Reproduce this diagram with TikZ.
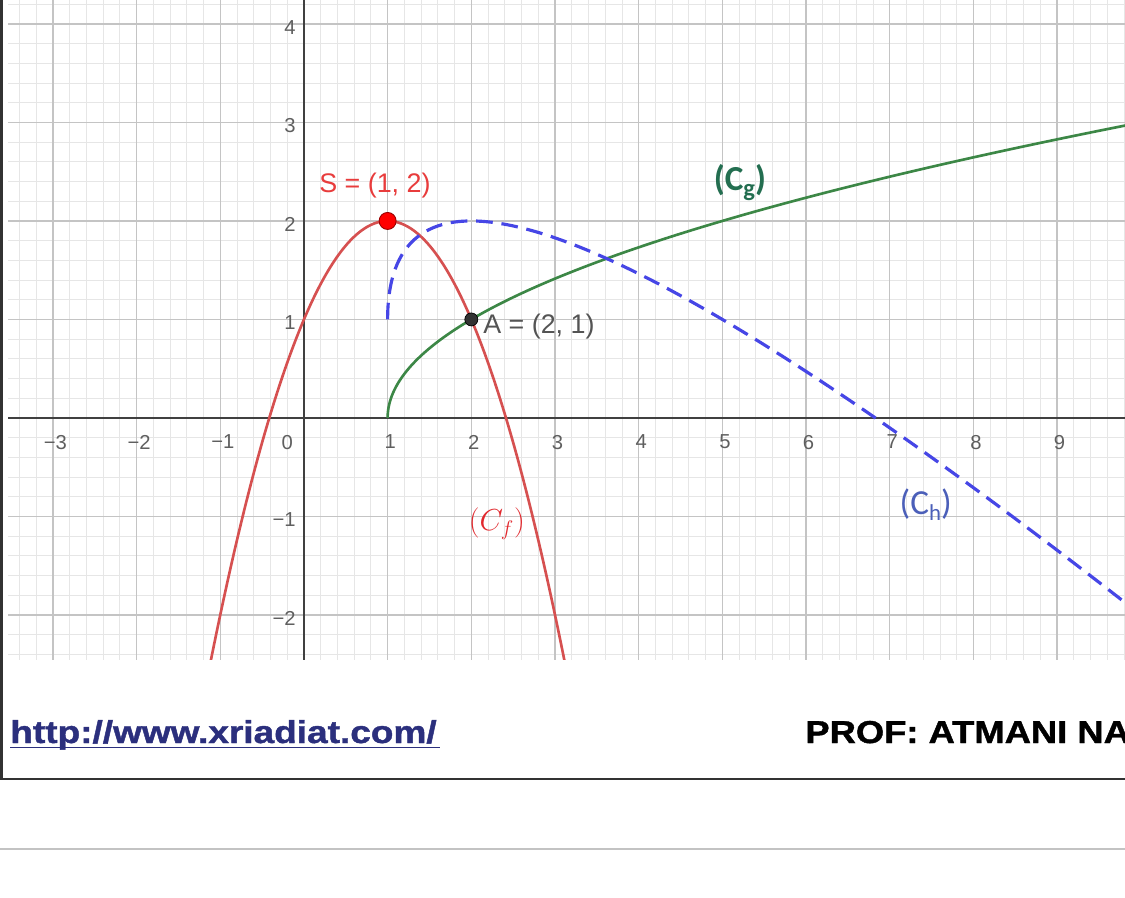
\documentclass[tikz,border=0pt]{standalone}
\usepackage{fontspec}
\usepackage{graphicx}
\setmainfont{Liberation Sans}
\newfontfamily\calib{Carlito}
\newfontfamily\heavyfont{Liberation Sans Bold}[FakeBold=1.2]
\definecolor{gmajor}{RGB}{196,196,196}
\definecolor{gminor}{RGB}{230,230,230}
\definecolor{axisc}{RGB}{64,64,64}
\definecolor{tickc}{RGB}{95,95,95}
\definecolor{fred}{RGB}{214,80,80}
\definecolor{sred}{RGB}{232,60,60}
\definecolor{cfred}{RGB}{225,40,45}
\definecolor{ggreen}{RGB}{60,135,70}
\definecolor{glab}{RGB}{35,110,80}
\definecolor{hblue}{RGB}{70,70,230}
\definecolor{hlab}{RGB}{75,95,185}
\definecolor{urlc}{RGB}{43,47,125}
\definecolor{framec}{RGB}{50,50,50}
\definecolor{sepc}{RGB}{195,195,195}
\tikzset{
  minorline/.style={gminor, line width=0.5pt},
  majorline/.style={gmajor, line width=0.8pt},
  axisline/.style={axisc, line width=0.9pt},
  ticklab/.style={text=tickc, font=\fontsize{11.5}{13}\selectfont, inner sep=0pt},
  fcurve/.style={fred, line width=1.5pt},
  gcurve/.style={ggreen, line width=1.5pt},
  hcurve/.style={hblue, line width=1.8pt, dash pattern=on 9.5pt off 5pt},
  ptlabel/.style={font=\fontsize{15.3}{18}\selectfont, inner sep=0pt},
  bottomtext/.style={font=\heavyfont\fontsize{18}{21}\selectfont, inner sep=0pt, anchor=base west},
}
\begin{document}
\begin{tikzpicture}[x=0.02cm, y=-0.02cm]
\useasboundingbox (0,0) rectangle (1125,898);
\fill[white] (0,0) rectangle (1125,898);
% graph
\begin{scope}[shift={(6.08cm,-8.36cm)}, x=1.674cm, y=1.97cm]
  \begin{scope}
    \clip (-3.536,-2.457) rectangle (9.81,4.244);
    \foreach \i in {-17,...,49} \draw[minorline] (\i/5,-2.457) -- (\i/5,4.244);
    \foreach \j in {-12,...,21} \draw[minorline] (-3.536,\j/5) -- (9.81,\j/5);
    \foreach \i in {-3,...,9} \draw[majorline] (\i,-2.457) -- (\i,4.244);
    \foreach \j in {-2,...,4} \draw[majorline] (-3.536,\j) -- (9.81,\j);
  \end{scope}
  \coordinate (xl) at (-3.536,0);
  \coordinate (xr) at (9.81,0);
  \coordinate (yb) at (0,-2.457);
  \coordinate (yt) at (0,4.244);
  \draw[axisline] (xl) -- (xr);
  \draw[axisline] (yb) -- (yt);
  % tick labels
  \foreach \i/\t in {-3/−3,-2/−2,-1/−1,1/1,2/2,3/3,4/4,5/5,6/6,7/7,8/8,9/9}
    \node[ticklab] (tx\i) at (\i+0.03,-0.245) {\t};
  \node[ticklab] (tx0) at (-0.2,-0.245) {0};
  \foreach \j/\t in {-2/−2,-1/−1,1/1,2/2,3/3,4/4}
    \node[ticklab, anchor=east] (ty\j) at (-0.095,\j-0.035) {\t};
  % curves
  \begin{scope}
    \clip (-3.536,-2.457) rectangle (9.81,4.244);
    \draw[fcurve] plot[domain=-1.12:3.12, samples=120, smooth] (\x,{-(\x-1)*(\x-1)+2});
    \draw[gcurve] plot[domain=0:2.97, samples=120, smooth] ({1+\x*\x},\x);
    \draw[hcurve] plot[domain=0:2.975, samples=150, smooth] ({1+\x*\x},{-\x*\x+2*\x+1});
  \end{scope}
  % points
  \node[circle, fill=red, draw=red!60!black, line width=0.5pt, minimum size=0.34cm, inner sep=0pt] (S) at (1,2) {};
  \node[circle, fill=black!80, draw=black, line width=0.4pt, minimum size=0.26cm, inner sep=0pt] (A) at (2,1) {};
  \node[ptlabel, text=sred] (Slab) at (0.848,2.355) {S = (1, 2)};
  \node[ptlabel, text=black!67, anchor=west] (Alab) at (2.139,0.93) {A = (2, 1)};
  \node[text=glab, inner sep=0pt, font=\calib\bfseries\fontsize{20}{22}\selectfont] (Cg) at (5.21,2.39) {(C\raisebox{-0.4ex}{\fontsize{14}{15}\selectfont g})};
  \node[text=hlab, inner sep=0pt, font=\calib\fontsize{20}{22}\selectfont] (Ch) at (7.43,-0.88) {(C\raisebox{-0.4ex}{\fontsize{13}{15}\selectfont h})};
  \node[text=cfred, inner sep=0pt, font=\fontsize{18.5}{21}\selectfont] (Cf) at (2.306,-1.075) {$(C_f)$};
\end{scope}
% frame and footer
\coordinate (ftl) at (1.5,0);
\coordinate (fbl) at (1.5,779);
\coordinate (fbr) at (1125,779);
\draw[framec, line width=1.4pt] (ftl) -- (fbl) -- (fbr);
\coordinate (sl) at (0,849);
\coordinate (sr) at (1125,849);
\draw[sepc, line width=1.1pt] (sl) -- (sr);
\node[bottomtext, text=urlc] (url) at (10,743) {\scalebox{1.17}[1]{http://www.xriadiat.com/}};
\coordinate (ul) at (10,747.5);
\coordinate (ur) at (440,747.5);
\draw[urlc, line width=1.1pt] (ul) -- (ur);
\node[bottomtext, text=black] (prof) at (805,743) {\scalebox{1.15}[1]{PROF: ATMANI NA}};
\end{tikzpicture}
\end{document}
